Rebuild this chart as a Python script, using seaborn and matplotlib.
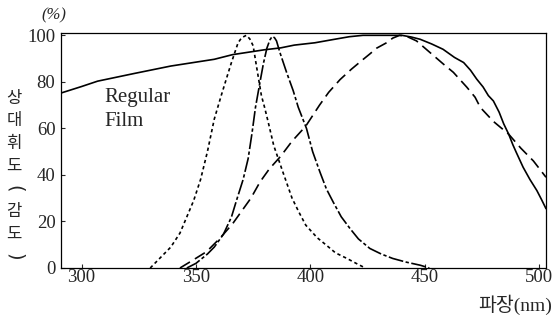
import pandas as pd
import seaborn as sns
import matplotlib.pyplot as plt

# curves (wavelength nm, relative sensitivity %)
regular_nm = [291, 300, 307, 323, 339, 358, 366, 380, 387, 393, 402, 410, 417, 423, 432, 440,
              444, 448, 453, 458, 463, 467, 470, 472.7, 475.5, 477.8, 480, 482.5, 484.5,
              486.7, 488.5, 490, 493, 496, 499, 501, 503]
regular_val = [75.2, 78, 80.3, 83.6, 86.8, 89.7, 91.7, 93.8, 94.6, 95.8, 96.8, 98.2, 99.4, 100, 100, 100,
               99.3, 98.3, 96.3, 94, 90.5, 88.3, 85, 81.2, 77.8, 74.1, 71.8, 67, 62,
               57.5, 53, 49.7, 43.3, 38, 33.3, 29.5, 25.5]

short_nm = [330, 334, 339, 343, 346, 349, 352, 355, 358, 361, 363.5, 365.5, 368.4, 370, 372,
            373.5, 375, 376.4, 378.6, 380, 381.5, 384, 388, 392, 395, 398, 403, 407, 411, 416, 420, 424]
short_val = [0, 4, 9, 15, 22, 29, 38, 50, 64, 74, 82, 88.3, 96.8, 99, 100,
             98.5, 95.5, 87, 74.1, 69, 63, 52.6, 41.2, 30, 24, 18.4, 13, 9.8, 6.5, 4.1, 2, 0]

mid_nm = [346, 350, 355, 358, 362, 365.5, 367.7, 370.6, 372.8, 374.5, 376, 378, 379.5, 381, 382.3,
          383.3, 384.3, 385.2, 386.7, 389.6, 392.5, 394.7, 398.3, 401, 404.2, 407, 410, 413.5,
          417.3, 421, 426, 431, 436, 442, 448, 452]
mid_val = [0, 2, 6, 9, 14.5, 21.9, 29, 38, 47, 58, 69, 80, 88, 94.5, 98,
           99.5, 99, 97.6, 92.6, 84.1, 76.2, 69.1, 60, 50, 41.2, 34, 28.3, 22,
           17, 12.5, 8.4, 6, 4.1, 2.5, 1.2, 0]

long_nm = [343, 348.7, 354.6, 360.4, 366, 370, 374, 378, 382, 387, 392, 398, 404, 408, 413, 418,
           423, 426, 429, 433.3, 436, 439, 442, 446.4, 452.3, 458.2, 462.5, 468.4, 472, 474.3,
           480, 486.7, 492, 497.5, 503]
long_val = [0, 3.4, 7, 12.7, 19, 24.5, 30, 37, 42.5, 48, 54.5, 61, 70, 75.5, 81, 85.5,
            89.6, 92, 94.5, 96.8, 98.8, 100, 99.6, 97.6, 92.6, 87.6, 84.1, 77.7, 73.4, 69,
            63, 57.5, 51.5, 46, 39]

x_ticks = [300, 350, 400, 450, 500]
y_ticks = [0, 20, 40, 60, 80, 100]
ylabel_chars = ['상', '대', '휘', '도', '(', '감', '도', ')']

frames = []
for name, xs, ys in [('regular', regular_nm, regular_val), ('short', short_nm, short_val),
                     ('mid', mid_nm, mid_val), ('long', long_nm, long_val)]:
    frames.append(pd.DataFrame({'nm': xs, 'val': ys, 'curve': name}))
data = pd.concat(frames, ignore_index=True)

sns.set_style('ticks')
plt.rcParams['font.family'] = ['Liberation Serif', 'Noto Sans CJK KR', 'DejaVu Sans']

fig = plt.figure(figsize=(5.55, 3.2), dpi=100)
ax = fig.add_axes([61 / 555, 1 - 268 / 320, 485 / 555, 235 / 320])

sns.lineplot(data=data, x='nm', y='val', style='curve', color='black', ax=ax,
             dashes={'regular': '', 'short': (2, 1.8), 'mid': (9, 1.5, 2, 1.5), 'long': (7, 3.5)},
             estimator=None, sort=False, linewidth=1.2, legend=False)

ax.set_xlim(291, 503)
ax.set_ylim(0, 101)
ax.set_xticks(x_ticks)
ax.set_yticks(y_ticks)
ax.set_xlabel('')
ax.set_ylabel('')
ax.tick_params(direction='in', length=3, width=0.8, labelsize=13.5)
ax.tick_params(axis='x', pad=1)
ax.tick_params(axis='y', pad=4)
for s in ax.spines.values():
    s.set_linewidth(0.9)
    s.set_color('black')

ax.text(310, 71.4, 'Regular', fontsize=15, va='baseline')
ax.text(310, 61.1, 'Film', fontsize=15, va='baseline')

fig.text(54 / 555, 1 - 15 / 320, '(%)', fontsize=12, style='italic', ha='center', va='center')
fig.text(552 / 555, 1 - 305 / 320, '파장(nm)', fontsize=14, ha='right', va='center')

# vertical y label, brackets turned on their side
for i, ch in enumerate(ylabel_chars):
    y = 1 - (98 + i * 22.7) / 320
    if ch in '()':
        fig.text(14 / 555, y, ch, fontsize=14, ha='center', va='center', rotation=-90,
                 rotation_mode='anchor', family='DejaVu Sans')
    else:
        fig.text(14 / 555, y, ch, fontsize=12, ha='center', va='center',
                 family=['Noto Sans CJK KR', 'DejaVu Sans'])

fig.savefig('out.png', dpi=100)
